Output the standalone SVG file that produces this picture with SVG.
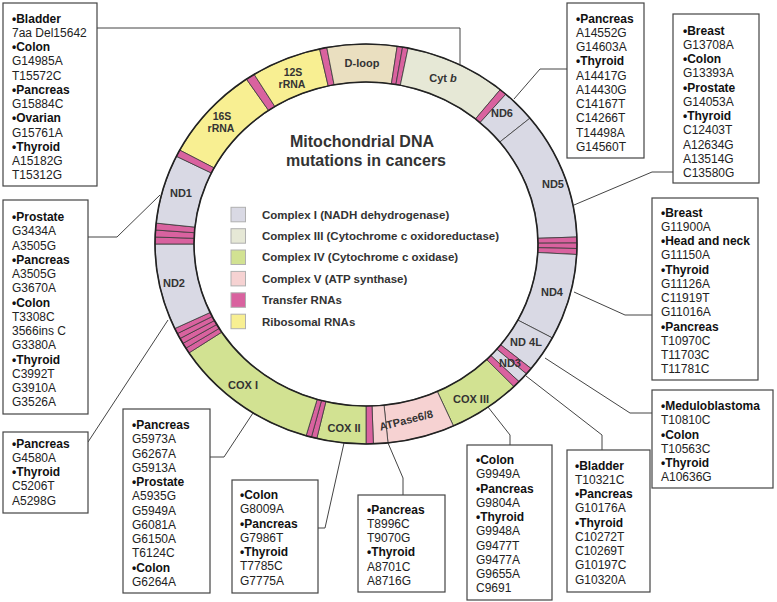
<svg xmlns="http://www.w3.org/2000/svg" width="777" height="602" viewBox="0 0 777 602">
<style>
.seg{stroke:#3a3a3a;stroke-width:0.8}
.c1{fill:#d9d9e4}.c3{fill:#e6e8d6}.c4{fill:#d2e292}.c5{fill:#f6d2d2}.tr{fill:#d9629f}.rr{fill:#f8ef92}.dl{fill:#eadfc0}
.lbl{font-family:"Liberation Sans",Arial,sans-serif;font-weight:bold;font-size:11px;fill:#333;text-anchor:middle}
.sm{font-size:10.5px}
.ttl{font-family:"Liberation Sans",Arial,sans-serif;font-weight:bold;font-size:16px;fill:#333;text-anchor:middle}
.leg{font-family:"Liberation Sans",Arial,sans-serif;font-weight:bold;font-size:11.5px;fill:#333}
.sw{stroke:#b0b0b0;stroke-width:1}
.box rect{fill:#fff;stroke:#444;stroke-width:1.2}
.box text{font-family:"Liberation Sans",Arial,sans-serif;font-size:12px;fill:#222}
.box .b{font-weight:bold;fill:#111}
.conn{fill:none;stroke:#444;stroke-width:1}
</style>
<rect width="777" height="602" fill="#fff"/>
<g id="connectors" class="conn">
<polyline points="97,28 460,28 460,64"/>
<polyline points="567,69 540,69 514,99"/>
<polyline points="673,172 652,172 574,205"/>
<polyline points="652,315 625,315 574,292"/>
<polyline points="652,413 630,413 545,358"/>
<polyline points="526,376 602,435 602,450"/>
<polyline points="510,445 510,435 488,407"/>
<polyline points="403,495 403,478 388,443"/>
<polyline points="318,528 325,528 344,443"/>
<polyline points="210,457 224,457 253,413"/>
<polyline points="88,442 168,320"/>
<polyline points="88,237 117,237 160,195"/>
</g>
<g id="mtDNA-ring">
<path class="seg rr" d="M179.7,150.1 A211,200 0 0 1 246.5,79.2 L268.6,110.5 A172,162 0 0 0 214.1,167.9 Z"/>
<path class="seg tr" d="M246.5,79.2 A211,200 0 0 1 254.2,74.4 L274.9,106.6 A172,162 0 0 0 268.6,110.5 Z"/>
<path class="seg rr" d="M254.2,74.4 A211,200 0 0 1 319.6,48.9 L328.2,86.0 A172,162 0 0 0 274.9,106.6 Z"/>
<path class="seg tr" d="M319.6,48.9 A211,200 0 0 1 326.8,47.5 L334.1,84.8 A172,162 0 0 0 328.2,86.0 Z"/>
<path class="seg dl" d="M326.8,47.5 A211,200 0 0 1 397.2,46.2 L391.4,83.8 A172,162 0 0 0 334.1,84.8 Z"/>
<path class="seg tr" d="M397.2,46.2 A211,200 0 0 1 402.6,47.0 L395.9,84.5 A172,162 0 0 0 391.4,83.8 Z"/>
<path class="seg tr" d="M402.6,47.0 A211,200 0 0 1 408.1,48.0 L400.3,85.3 A172,162 0 0 0 395.9,84.5 Z"/>
<path class="seg c3" d="M408.1,48.0 A211,200 0 0 1 500.2,89.7 L475.4,119.0 A172,162 0 0 0 400.3,85.3 Z"/>
<path class="seg tr" d="M500.2,89.7 A211,200 0 0 1 505.8,94.2 L480.0,122.7 A172,162 0 0 0 475.4,119.0 Z"/>
<path class="seg c1" d="M505.8,94.2 A211,200 0 0 1 530.0,118.1 L499.7,142.1 A172,162 0 0 0 480.0,122.7 Z"/>
<path class="seg c1" d="M530.0,118.1 A211,200 0 0 1 576.9,237.0 L537.9,238.3 A172,162 0 0 0 499.7,142.1 Z"/>
<path class="seg tr" d="M576.9,237.0 A211,200 0 0 1 577.0,243.0 L538.0,243.2 A172,162 0 0 0 537.9,238.3 Z"/>
<path class="seg tr" d="M577.0,243.0 A211,200 0 0 1 576.9,248.5 L537.9,247.7 A172,162 0 0 0 538.0,243.2 Z"/>
<path class="seg tr" d="M576.9,248.5 A211,200 0 0 1 576.7,254.5 L537.8,252.5 A172,162 0 0 0 537.9,247.7 Z"/>
<path class="seg c1" d="M576.7,254.5 A211,200 0 0 1 552.3,337.9 L517.9,320.1 A172,162 0 0 0 537.8,252.5 Z"/>
<path class="seg c1" d="M552.3,337.9 A211,200 0 0 1 531.1,368.5 L500.6,344.8 A172,162 0 0 0 517.9,320.1 Z"/>
<path class="seg tr" d="M531.1,368.5 A211,200 0 0 1 526.4,373.9 L496.8,349.2 A172,162 0 0 0 500.6,344.8 Z"/>
<path class="seg c1" d="M526.4,373.9 A211,200 0 0 1 519.1,381.7 L490.8,355.5 A172,162 0 0 0 496.8,349.2 Z"/>
<path class="seg tr" d="M519.1,381.7 A211,200 0 0 1 513.9,386.7 L486.6,359.6 A172,162 0 0 0 490.8,355.5 Z"/>
<path class="seg c4" d="M513.9,386.7 A211,200 0 0 1 453.5,426.0 L437.3,391.4 A172,162 0 0 0 486.6,359.6 Z"/>
<path class="seg c5" d="M453.5,426.0 A211,200 0 0 1 388.0,442.9 L384.0,405.1 A172,162 0 0 0 437.3,391.4 Z"/>
<path class="seg c5" d="M388.0,442.9 A211,200 0 0 1 373.4,443.9 L372.0,405.9 A172,162 0 0 0 384.0,405.1 Z"/>
<path class="seg tr" d="M373.4,443.9 A211,200 0 0 1 366,444 L366,406 A172,162 0 0 0 372.0,405.9 Z"/>
<path class="seg c4" d="M366,444 A211,200 0 0 1 316.8,438.5 L325.9,401.5 A172,162 0 0 0 366,406 Z"/>
<path class="seg tr" d="M316.8,438.5 A211,200 0 0 1 311.4,437.2 L321.5,400.5 A172,162 0 0 0 325.9,401.5 Z"/>
<path class="seg tr" d="M311.4,437.2 A211,200 0 0 1 306.1,435.8 L317.2,399.3 A172,162 0 0 0 321.5,400.5 Z"/>
<path class="seg c4" d="M306.1,435.8 A211,200 0 0 1 189.0,352.9 L221.7,332.2 A172,162 0 0 0 317.2,399.3 Z"/>
<path class="seg tr" d="M189.0,352.9 A211,200 0 0 1 185.9,348.2 L219.2,328.4 A172,162 0 0 0 221.7,332.2 Z"/>
<path class="seg tr" d="M185.9,348.2 A211,200 0 0 1 182.9,343.4 L216.7,324.5 A172,162 0 0 0 219.2,328.4 Z"/>
<path class="seg tr" d="M182.9,343.4 A211,200 0 0 1 180.0,338.5 L214.4,320.6 A172,162 0 0 0 216.7,324.5 Z"/>
<path class="seg tr" d="M180.0,338.5 A211,200 0 0 1 177.3,333.6 L212.2,316.5 A172,162 0 0 0 214.4,320.6 Z"/>
<path class="seg tr" d="M177.3,333.6 A211,200 0 0 1 174.8,328.5 L210.1,312.5 A172,162 0 0 0 212.2,316.5 Z"/>
<path class="seg c1" d="M174.8,328.5 A211,200 0 0 1 155,244 L194,244 A172,162 0 0 0 210.1,312.5 Z"/>
<path class="seg tr" d="M155,244 A211,200 0 0 1 155.1,237.0 L194.1,238.3 A172,162 0 0 0 194,244 Z"/>
<path class="seg tr" d="M155.1,237.0 A211,200 0 0 1 155.5,230.0 L194.4,232.7 A172,162 0 0 0 194.1,238.3 Z"/>
<path class="seg tr" d="M155.5,230.0 A211,200 0 0 1 156.2,223.1 L194.9,227.1 A172,162 0 0 0 194.4,232.7 Z"/>
<path class="seg c1" d="M156.2,223.1 A211,200 0 0 1 176.4,156.3 L211.4,173.0 A172,162 0 0 0 194.9,227.1 Z"/>
<path class="seg tr" d="M176.4,156.3 A211,200 0 0 1 179.7,150.1 L214.1,167.9 A172,162 0 0 0 211.4,173.0 Z"/>
<ellipse cx="366" cy="244" rx="211" ry="200" fill="none" stroke="#222" stroke-width="1.6"/>
<ellipse cx="366" cy="244" rx="172" ry="162" fill="none" stroke="#222" stroke-width="1.6"/>
<text class="lbl sm" x="293" y="76">12S</text>
<text class="lbl sm" x="292" y="87.5">rRNA</text>
<text class="lbl sm" x="222" y="120">16S</text>
<text class="lbl sm" x="221" y="131.5">rRNA</text>
<text class="lbl" x="362" y="67">D-loop</text>
<text class="lbl" x="443" y="82">Cyt <tspan font-style="italic">b</tspan></text>
<text class="lbl" x="502" y="117">ND6</text>
<text class="lbl" x="553" y="188">ND5</text>
<text class="lbl" x="552" y="296">ND4</text>
<text class="lbl" x="526" y="346">ND 4L</text>
<text class="lbl" x="510" y="367">ND3</text>
<text class="lbl" x="471" y="403">COX III</text>
<text class="lbl" transform="translate(407,424) rotate(-14)" x="0" y="0">ATPase6/8</text>
<text class="lbl" x="344" y="432">COX II</text>
<text class="lbl" x="243" y="389">COX I</text>
<text class="lbl" x="174" y="287">ND2</text>
<text class="lbl" x="181" y="197">ND1</text>
</g>
<g id="title">
<text class="ttl" x="362" y="146.5">Mitochondrial DNA</text>
<text class="ttl" x="366" y="166">mutations in cancers</text>
</g>
<g id="legend">
<rect class="sw c1" x="231" y="207.3" width="14.5" height="14.5"/>
<rect class="sw c3" x="231" y="228.7" width="14.5" height="14.5"/>
<rect class="sw c4" x="231" y="250" width="14.5" height="14.5"/>
<rect class="sw c5" x="231" y="271.4" width="14.5" height="14.5"/>
<rect class="sw tr" x="231" y="292.8" width="14.5" height="14.5"/>
<rect class="sw rr" x="231" y="314.2" width="14.5" height="14.5"/>
<text class="leg" x="262" y="218.6">Complex I (NADH dehydrogenase)</text>
<text class="leg" x="262" y="240">Complex III (Cytochrome c oxidoreductase)</text>
<text class="leg" x="262" y="261.4">Complex IV (Cytochrome c oxidase)</text>
<text class="leg" x="262" y="282.8">Complex V (ATP synthase)</text>
<text class="leg" x="262" y="304.2">Transfer RNAs</text>
<text class="leg" x="262" y="325.6">Ribosomal RNAs</text>
</g>
<g id="box-cytb" class="box">
<rect x="3" y="3" width="94" height="183"/>
<text x="12" y="22.5"><tspan class="b">•Bladder</tspan><tspan x="12" dy="14.25">7aa Del15642</tspan><tspan x="12" dy="14.25" class="b">•Colon</tspan><tspan x="12" dy="14.25">G14985A</tspan><tspan x="12" dy="14.25">T15572C</tspan><tspan x="12" dy="14.25" class="b">•Pancreas</tspan><tspan x="12" dy="14.25">G15884C</tspan><tspan x="12" dy="14.25" class="b">•Ovarian</tspan><tspan x="12" dy="14.25">G15761A</tspan><tspan x="12" dy="14.25" class="b">•Thyroid</tspan><tspan x="12" dy="14.25">A15182G</tspan><tspan x="12" dy="14.25">T15312G</tspan></text>
</g>
<g id="box-nd6" class="box">
<rect x="567" y="3" width="77" height="155"/>
<text x="576" y="22.5"><tspan class="b">•Pancreas</tspan><tspan x="576" dy="14.25">A14552G</tspan><tspan x="576" dy="14.25">G14603A</tspan><tspan x="576" dy="14.25" class="b">•Thyroid</tspan><tspan x="576" dy="14.25">A14417G</tspan><tspan x="576" dy="14.25">A14430G</tspan><tspan x="576" dy="14.25">C14167T</tspan><tspan x="576" dy="14.25">C14266T</tspan><tspan x="576" dy="14.25">T14498A</tspan><tspan x="576" dy="14.25">G14560T</tspan></text>
</g>
<g id="box-nd5" class="box">
<rect x="673" y="14" width="86" height="169"/>
<text x="683" y="34.5"><tspan class="b">•Breast</tspan><tspan x="683" dy="14.25">G13708A</tspan><tspan x="683" dy="14.25" class="b">•Colon</tspan><tspan x="683" dy="14.25">G13393A</tspan><tspan x="683" dy="14.25" class="b">•Prostate</tspan><tspan x="683" dy="14.25">G14053A</tspan><tspan x="683" dy="14.25" class="b">•Thyroid</tspan><tspan x="683" dy="14.25">C12403T</tspan><tspan x="683" dy="14.25">A12634G</tspan><tspan x="683" dy="14.25">A13514G</tspan><tspan x="683" dy="14.25">C13580G</tspan></text>
</g>
<g id="box-nd4" class="box">
<rect x="652" y="198" width="106" height="182"/>
<text x="661" y="216.5"><tspan class="b">•Breast</tspan><tspan x="661" dy="14.25">G11900A</tspan><tspan x="661" dy="14.25" class="b">•Head and neck</tspan><tspan x="661" dy="14.25">G11150A</tspan><tspan x="661" dy="14.25" class="b">•Thyroid</tspan><tspan x="661" dy="14.25">G11126A</tspan><tspan x="661" dy="14.25">C11919T</tspan><tspan x="661" dy="14.25">G11016A</tspan><tspan x="661" dy="14.25" class="b">•Pancreas</tspan><tspan x="661" dy="14.25">T10970C</tspan><tspan x="661" dy="14.25">T11703C</tspan><tspan x="661" dy="14.25">T11781C</tspan></text>
</g>
<g id="box-nd4l" class="box">
<rect x="652" y="390" width="121" height="98"/>
<text x="661" y="410"><tspan class="b">•Meduloblastoma</tspan><tspan x="661" dy="14.25">T10810C</tspan><tspan x="661" dy="14.25" class="b">•Colon</tspan><tspan x="661" dy="14.25">T10563C</tspan><tspan x="661" dy="14.25" class="b">•Thyroid</tspan><tspan x="661" dy="14.25">A10636G</tspan></text>
</g>
<g id="box-nd3" class="box">
<rect x="567" y="450" width="83" height="142"/>
<text x="575" y="469.5"><tspan class="b">•Bladder</tspan><tspan x="575" dy="14.25">T10321C</tspan><tspan x="575" dy="14.25" class="b">•Pancreas</tspan><tspan x="575" dy="14.25">G10176A</tspan><tspan x="575" dy="14.25" class="b">•Thyroid</tspan><tspan x="575" dy="14.25">C10272T</tspan><tspan x="575" dy="14.25">C10269T</tspan><tspan x="575" dy="14.25">G10197C</tspan><tspan x="575" dy="14.25">G10320A</tspan></text>
</g>
<g id="box-cox3" class="box">
<rect x="467" y="445" width="85" height="155"/>
<text x="476" y="464"><tspan class="b">•Colon</tspan><tspan x="476" dy="14.25">G9949A</tspan><tspan x="476" dy="14.25" class="b">•Pancreas</tspan><tspan x="476" dy="14.25">G9804A</tspan><tspan x="476" dy="14.25" class="b">•Thyroid</tspan><tspan x="476" dy="14.25">G9948A</tspan><tspan x="476" dy="14.25">G9477T</tspan><tspan x="476" dy="14.25">G9477A</tspan><tspan x="476" dy="14.25">G9655A</tspan><tspan x="476" dy="14.25">C9691</tspan></text>
</g>
<g id="box-atpase" class="box">
<rect x="358" y="495" width="87" height="97"/>
<text x="367" y="513.5"><tspan class="b">•Pancreas</tspan><tspan x="367" dy="14.25">T8996C</tspan><tspan x="367" dy="14.25">T9070G</tspan><tspan x="367" dy="14.25" class="b">•Thyroid</tspan><tspan x="367" dy="14.25">A8701C</tspan><tspan x="367" dy="14.25">A8716G</tspan></text>
</g>
<g id="box-cox2" class="box">
<rect x="232" y="480" width="86" height="113"/>
<text x="240" y="499"><tspan class="b">•Colon</tspan><tspan x="240" dy="14.25">G8009A</tspan><tspan x="240" dy="14.25" class="b">•Pancreas</tspan><tspan x="240" dy="14.25">G7986T</tspan><tspan x="240" dy="14.25" class="b">•Thyroid</tspan><tspan x="240" dy="14.25">T7785C</tspan><tspan x="240" dy="14.25">G7775A</tspan></text>
</g>
<g id="box-cox1" class="box">
<rect x="123" y="409" width="87" height="184"/>
<text x="132" y="429"><tspan class="b">•Pancreas</tspan><tspan x="132" dy="14.25">G5973A</tspan><tspan x="132" dy="14.25">G6267A</tspan><tspan x="132" dy="14.25">G5913A</tspan><tspan x="132" dy="14.25" class="b">•Prostate</tspan><tspan x="132" dy="14.25">A5935G</tspan><tspan x="132" dy="14.25">G5949A</tspan><tspan x="132" dy="14.25">G6081A</tspan><tspan x="132" dy="14.25">G6150A</tspan><tspan x="132" dy="14.25">T6124C</tspan><tspan x="132" dy="14.25" class="b">•Colon</tspan><tspan x="132" dy="14.25">G6264A</tspan></text>
</g>
<g id="box-trna" class="box">
<rect x="3" y="432" width="85" height="81"/>
<text x="12" y="447.5"><tspan class="b">•Pancreas</tspan><tspan x="12" dy="14.25">G4580A</tspan><tspan x="12" dy="14.25" class="b">•Thyroid</tspan><tspan x="12" dy="14.25">C5206T</tspan><tspan x="12" dy="14.25">A5298G</tspan></text>
</g>
<g id="box-nd1-nd2" class="box">
<rect x="3" y="200" width="85" height="214"/>
<text x="12" y="221"><tspan class="b">•Prostate</tspan><tspan x="12" dy="14.25">G3434A</tspan><tspan x="12" dy="14.25">A3505G</tspan><tspan x="12" dy="14.25" class="b">•Pancreas</tspan><tspan x="12" dy="14.25">A3505G</tspan><tspan x="12" dy="14.25">G3670A</tspan><tspan x="12" dy="14.25" class="b">•Colon</tspan><tspan x="12" dy="14.25">T3308C</tspan><tspan x="12" dy="14.25">3566ins C</tspan><tspan x="12" dy="14.25">G3380A</tspan><tspan x="12" dy="14.25" class="b">•Thyroid</tspan><tspan x="12" dy="14.25">C3992T</tspan><tspan x="12" dy="14.25">G3910A</tspan><tspan x="12" dy="14.25">G3526A</tspan></text>
</g>
</svg>
